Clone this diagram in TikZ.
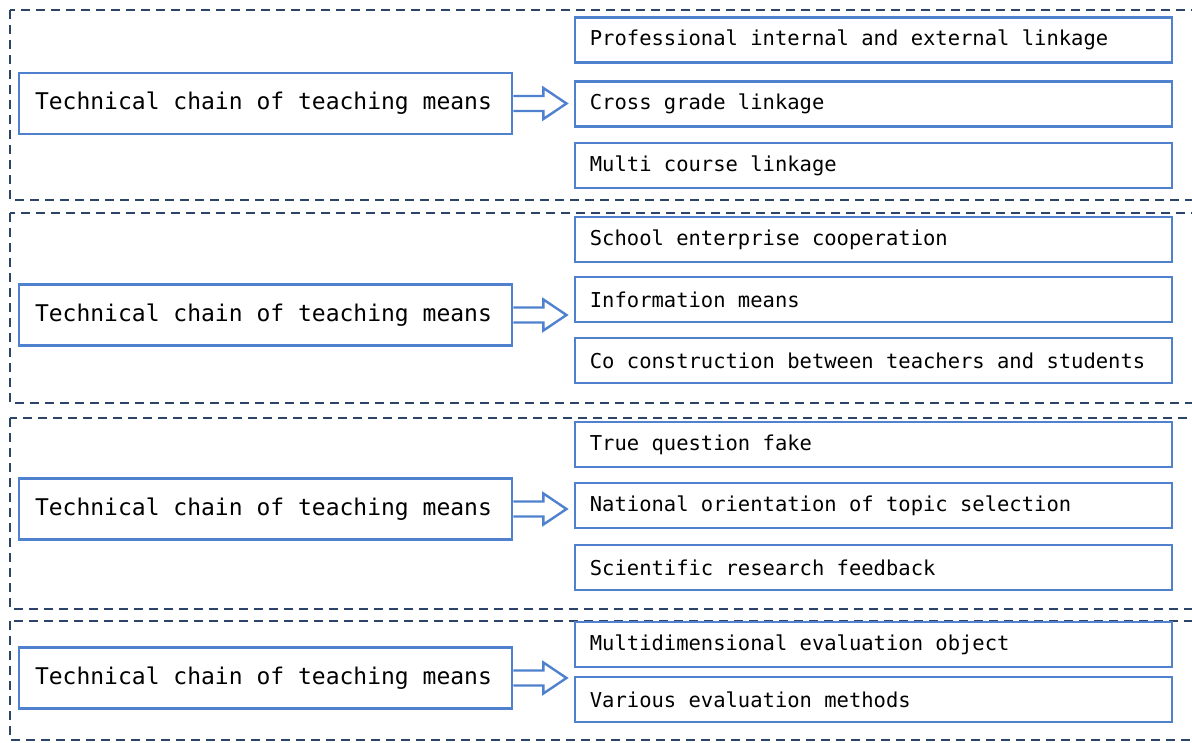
\documentclass[tikz,border=0pt]{standalone}
\usepackage{fontspec}
\setmonofont{DejaVu Sans Mono}
\usetikzlibrary{calc,positioning}
\definecolor{boxblue}{HTML}{4F81CF}
\definecolor{dashnavy}{HTML}{2B4468}
\newcommand{\bigmono}{\ttfamily\fontsize{23}{28}\selectfont}
\newcommand{\smallmono}{\ttfamily\fontsize{20.5}{24}\selectfont}

\begin{document}
\begin{tikzpicture}[x=1pt,y=-1pt,
  panel/.style={draw=dashnavy,line width=1.6pt,dash pattern=on 9pt off 6pt},
  mainbox/.style={draw=boxblue,line width=2.8pt,fill=white,minimum width=493pt,minimum height=61pt,
    inner xsep=16pt,text width=461pt,align=flush left,font=\bigmono},
  itembox/.style={draw=boxblue,line width=2.8pt,fill=white,anchor=west,minimum width=597pt,minimum height=45pt,
    inner xsep=15pt,text width=567pt,align=flush left,font=\smallmono},
  blockarrow/.style={draw=boxblue,line width=2.4pt,fill=white,line join=miter}]
\useasboundingbox (0,0) rectangle (1192,742);
\clip (0,0) rectangle (1192,742);
% dashed panels
\draw [panel] (10,10) rectangle (1210,200);
\draw [panel] (10,213) rectangle (1210,403);
\draw [panel] (10,418) rectangle (1210,609);
\draw [panel] (10,621) rectangle (1210,740);
% panel 1
\node [mainbox] (m1) at (265.5,103.5) {Technical chain of teaching means};
\node [itembox] (c11) at (573.5,40) {Professional internal and external linkage};
\node [itembox] (c12) at (573.5,104) {Cross grade linkage};
\node [itembox] (c13) at (573.5,165.5) {Multi course linkage};
\draw [blockarrow] ($(m1.east)+(0,-7.5)$) -- ($(m1.east)+(30,-7.5)$) -- ($(m1.east)+(30,-15.5)$)
  -- ($(c12.west |- m1.east)+(-7,0)$) -- ($(m1.east)+(30,15.5)$) -- ($(m1.east)+(30,7.5)$) -- ($(m1.east)+(0,7.5)$);
% panel 2
\node [mainbox] (m2) at (265.5,315) {Technical chain of teaching means};
\node [itembox] (c21) at (573.5,239.5) {School enterprise cooperation};
\node [itembox] (c22) at (573.5,299.5) {Information means};
\node [itembox] (c23) at (573.5,360.5) {Co construction between teachers and students};
\draw [blockarrow] ($(m2.east)+(0,-7.5)$) -- ($(m2.east)+(30,-7.5)$) -- ($(m2.east)+(30,-15.5)$)
  -- ($(c22.west |- m2.east)+(-7,0)$) -- ($(m2.east)+(30,15.5)$) -- ($(m2.east)+(30,7.5)$) -- ($(m2.east)+(0,7.5)$);
% panel 3
\node [mainbox] (m3) at (265.5,509) {Technical chain of teaching means};
\node [itembox] (c31) at (573.5,444.5) {True question fake};
\node [itembox] (c32) at (573.5,505.5) {National orientation of topic selection};
\node [itembox] (c33) at (573.5,567.5) {Scientific research feedback};
\draw [blockarrow] ($(m3.east)+(0,-7.5)$) -- ($(m3.east)+(30,-7.5)$) -- ($(m3.east)+(30,-15.5)$)
  -- ($(c32.west |- m3.east)+(-7,0)$) -- ($(m3.east)+(30,15.5)$) -- ($(m3.east)+(30,7.5)$) -- ($(m3.east)+(0,7.5)$);
% panel 4
\node [mainbox] (m4) at (265.5,678) {Technical chain of teaching means};
\node [itembox] (c41) at (573.5,644.5) {Multidimensional evaluation object};
\node [itembox] (c42) at (573.5,699.5) {Various evaluation methods};
\draw [blockarrow] ($(m4.east)+(0,-7.5)$) -- ($(m4.east)+(30,-7.5)$) -- ($(m4.east)+(30,-15.5)$)
  -- ($(c42.west |- m4.east)+(-7,0)$) -- ($(m4.east)+(30,15.5)$) -- ($(m4.east)+(30,7.5)$) -- ($(m4.east)+(0,7.5)$);
\end{tikzpicture}
\end{document}
